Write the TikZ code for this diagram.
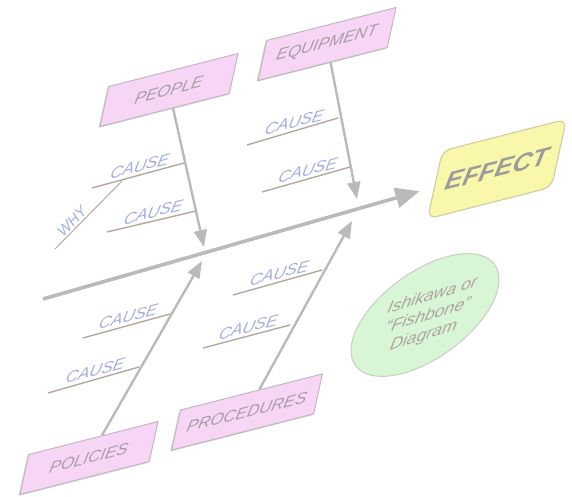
\documentclass[tikz,border=0pt]{standalone}
\usepackage{fontspec}
\setmainfont{Liberation Sans}
\usetikzlibrary{arrows.meta,shadows,shapes.geometric}
\definecolor{boxfill}{RGB}{246,214,244}
\definecolor{boxline}{RGB}{196,182,192}
\definecolor{boxtext}{RGB}{168,156,168}
\definecolor{causetext}{RGB}{164,172,230}
\definecolor{bonegray}{RGB}{186,186,186}
\definecolor{causeline}{RGB}{180,168,156}
\definecolor{effectfill}{RGB}{249,248,170}
\definecolor{effectline}{RGB}{212,206,164}
\definecolor{effecttext}{RGB}{156,156,156}
\definecolor{ovalfill}{RGB}{216,246,214}
\definecolor{ovalline}{RGB}{198,208,192}
\definecolor{ovaltext}{RGB}{172,164,156}
\tikzstyle{every edge} = [draw,every node/.style={auto}]
\tikzstyle{persp} = [xslant=0.22,yslant=0.27]
\tikzstyle{cat} = [persp,draw=boxline,fill=boxfill,line width=1pt,minimum width=122pt,minimum height=40pt,inner sep=0pt,text=boxtext,font=\fontsize{16}{19}\selectfont\itshape,drop shadow={shadow xshift=-1.5pt,shadow yshift=-1.5pt,fill=gray!50,opacity=.6}]
\tikzstyle{spine} = [draw=bonegray,line width=3.6pt,-{Triangle[length=24pt,width=20pt]},shorten >=15pt]
\tikzstyle{bone} = [draw=bonegray,line width=2.4pt,-{Triangle[length=17pt,width=13pt]}]
\tikzstyle{cause} = [draw=causeline,line width=1.4pt]
\tikzstyle{causelbl} = [persp,text=causetext,font=\fontsize{16}{19}\selectfont\itshape,inner sep=3pt]

\begin{document}
\begin{tikzpicture}[x=1pt,y=-1pt]
\useasboundingbox (0,0) rectangle (572,497);

\node[cat] (people) at (169,90) {PEOPLE};
\node[cat] (equip) at (327,44) {EQUIPMENT};
\node[cat] (policies) at (89,458) {POLICIES};
\node[cat,minimum width=134pt] (procs) at (247,412) {PROCEDURES};
\node[persp,rounded corners=9pt,draw=effectline,fill=effectfill,line width=1.2pt,minimum width=117pt,minimum height=68pt,text=effecttext,font=\fontsize{25}{28}\selectfont\bfseries\itshape] (effect) at (497,169) {EFFECT};
\node[ellipse,draw=ovalline,fill=ovalfill,line width=1pt,minimum width=172pt,minimum height=86pt,rotate=36] (oval) at (425,315) {};
\node[xslant=0.22,yslant=0.32,align=center,text=ovaltext,font=\fontsize{16.5}{20}\selectfont\itshape] (ovaltxt) at (428,316) {Ishikawa or\\``Fishbone''\\Diagram};

\coordinate (tail) at (43,299);
\coordinate (pj) at (204,247);
\coordinate (ej) at (357,199);
\coordinate (lj) at (202,261);
\coordinate (rj) at (352,221);

\draw (tail) edge[spine] (effect);
\draw (people) edge[bone] (pj);
\draw (equip) edge[bone] (ej);
\draw (policies) edge[bone] (lj);
\draw (procs) edge[bone] (rj);

% causes
\coordinate (p1a) at (92,188); \coordinate (p1b) at (184,163);
\coordinate (p2a) at (107,232); \coordinate (p2b) at (196,211);
\coordinate (e1a) at (247,145); \coordinate (e1b) at (338,118);
\coordinate (e2a) at (262,192); \coordinate (e2b) at (350,167);
\coordinate (l1a) at (83,338); \coordinate (l1b) at (170,314);
\coordinate (l2a) at (48,393); \coordinate (l2b) at (139,367);
\coordinate (r1a) at (233,295); \coordinate (r1b) at (322,270);
\coordinate (r2a) at (203,348); \coordinate (r2b) at (290,325);
\coordinate (why) at (55,249); \coordinate (wj) at (122,181);

\draw[cause] (p1a) -- node[causelbl,above] (pc1) {CAUSE} (p1b);
\draw[cause] (p2a) -- node[causelbl,above] (pc2) {CAUSE} (p2b);
\draw[cause] (e1a) -- node[causelbl,above] (ec1) {CAUSE} (e1b);
\draw[cause] (e2a) -- node[causelbl,above] (ec2) {CAUSE} (e2b);
\draw[cause] (l1a) -- node[causelbl,above] (lc1) {CAUSE} (l1b);
\draw[cause] (l2a) -- node[causelbl,above] (lc2) {CAUSE} (l2b);
\draw[cause] (r1a) -- node[causelbl,above] (rc1) {CAUSE} (r1b);
\draw[cause] (r2a) -- node[causelbl,above] (rc2) {CAUSE} (r2b);
\draw[cause,line width=1pt] (why) -- node[pos=0.33,sloped,above,text=causetext,font=\fontsize{15}{18}\selectfont\itshape,inner sep=1.5pt] (whylbl) {WHY} (wj);

\end{tikzpicture}
\end{document}
